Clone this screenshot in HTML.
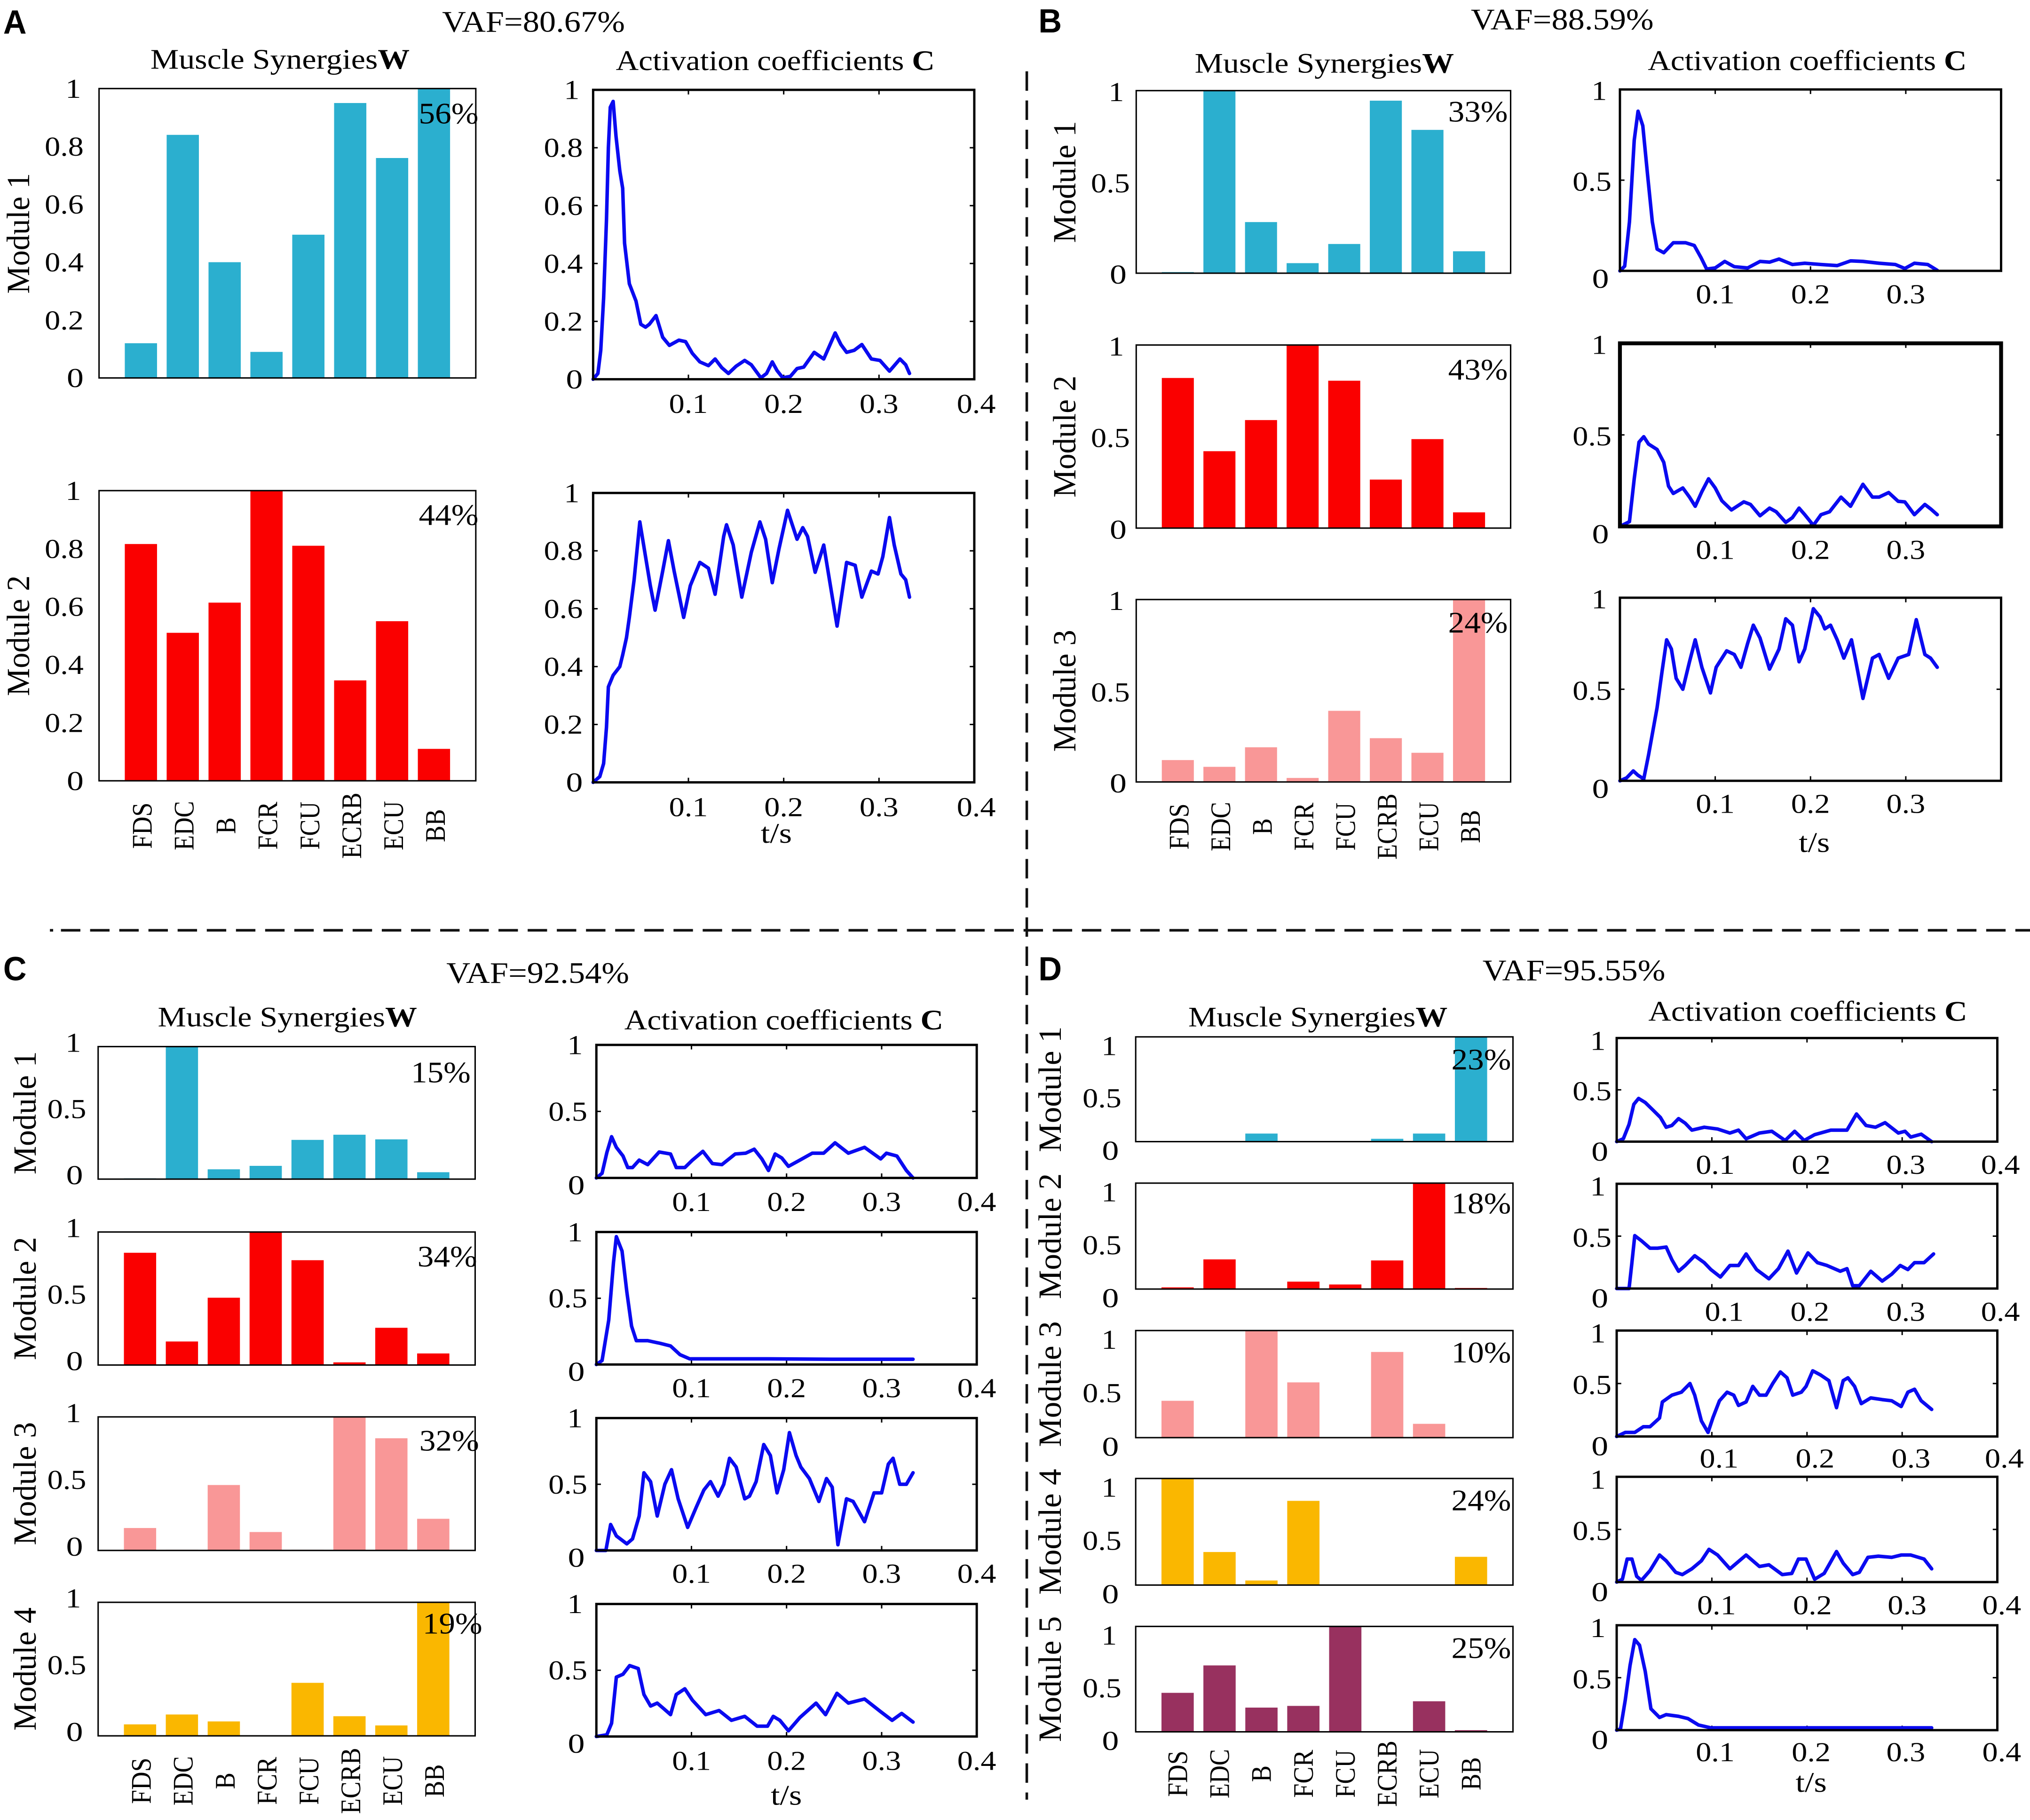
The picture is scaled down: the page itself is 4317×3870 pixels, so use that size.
<!DOCTYPE html>
<html><head><meta charset="utf-8"><style>
html,body{margin:0;padding:0;background:#fff}
svg{display:block}
text{font-family:"Liberation Serif","Times New Roman",serif;fill:#000}
.tk{font-size:21px}
.ti{font-size:22px}
.vf{font-size:23px}
.pc{font-size:23px}
.yl{font-size:25px}
.ml{font-size:22px}
.pl{font-family:"Liberation Sans",Arial,sans-serif;font-weight:bold;font-size:26px}
.c{fill:none;stroke:#0a0af0;stroke-width:7.5px;stroke-linejoin:round;stroke-linecap:round}
.tm{fill:none;stroke:#000;stroke-width:3px}
.bx{fill:none;stroke:#000;stroke-width:1.1}
.ba{fill:none;stroke:#000;stroke-width:1.8}
.dl{stroke:#111;stroke-width:2;stroke-dasharray:15 7.5;fill:none}
</style></head><body>
<svg width="4317" height="3870" viewBox="0 0 1565.8 1403.7" preserveAspectRatio="none" xmlns="http://www.w3.org/2000/svg">
<rect x="0" y="0" width="1565.8" height="1403.7" fill="#fff"/>

<!-- dashed separators -->
<line class="dl" x1="47" y1="717.5" x2="1566" y2="717.5"/>
<line x1="38.5" y1="717.5" x2="41" y2="717.5" stroke="#111" stroke-width="2"/>
<line class="dl" x1="792" y1="55" x2="792" y2="1388"/>

<!-- panel letters -->
<text class="pl" x="2.5" y="26" textLength="18" lengthAdjust="spacingAndGlyphs">A</text>
<text class="pl" x="801" y="25" textLength="18" lengthAdjust="spacingAndGlyphs">B</text>
<text class="pl" x="2.5" y="756" textLength="18" lengthAdjust="spacingAndGlyphs">C</text>
<text class="pl" x="801" y="756" textLength="18" lengthAdjust="spacingAndGlyphs">D</text>

<!-- VAF -->
<text class="vf" x="411.5" y="24.5" text-anchor="middle" textLength="141" lengthAdjust="spacingAndGlyphs">VAF=80.67%</text>
<text class="vf" x="1205" y="22.6" text-anchor="middle" textLength="141" lengthAdjust="spacingAndGlyphs">VAF=88.59%</text>
<text class="vf" x="414.8" y="758" text-anchor="middle" textLength="141" lengthAdjust="spacingAndGlyphs">VAF=92.54%</text>
<text class="vf" x="1214" y="756" text-anchor="middle" textLength="141" lengthAdjust="spacingAndGlyphs">VAF=95.55%</text>

<!-- titles -->
<text class="ti" x="216" y="53" text-anchor="middle" textLength="200" lengthAdjust="spacingAndGlyphs">Muscle Synergies<tspan font-weight="bold">W</tspan></text>
<text class="ti" x="598" y="54" text-anchor="middle" textLength="246" lengthAdjust="spacingAndGlyphs">Activation coefficients <tspan font-weight="bold">C</tspan></text>
<text class="ti" x="1021.5" y="56" text-anchor="middle" textLength="200" lengthAdjust="spacingAndGlyphs">Muscle Synergies<tspan font-weight="bold">W</tspan></text>
<text class="ti" x="1394" y="54" text-anchor="middle" textLength="246" lengthAdjust="spacingAndGlyphs">Activation coefficients <tspan font-weight="bold">C</tspan></text>
<text class="ti" x="221.7" y="791.7" text-anchor="middle" textLength="200" lengthAdjust="spacingAndGlyphs">Muscle Synergies<tspan font-weight="bold">W</tspan></text>
<text class="ti" x="604.6" y="793.9" text-anchor="middle" textLength="246" lengthAdjust="spacingAndGlyphs">Activation coefficients <tspan font-weight="bold">C</tspan></text>
<text class="ti" x="1016.5" y="791.7" text-anchor="middle" textLength="200" lengthAdjust="spacingAndGlyphs">Muscle Synergies<tspan font-weight="bold">W</tspan></text>
<text class="ti" x="1394.4" y="787.2" text-anchor="middle" textLength="246" lengthAdjust="spacingAndGlyphs">Activation coefficients <tspan font-weight="bold">C</tspan></text>

<!-- ================= BARS ================= -->
<!-- A1 -->
<g transform="translate(76.4 291.5) scale(32.29 -223.2)" fill="#2BAFCF">
<rect x="0.615" y="0" width="0.77" height="0.12"/><rect x="1.615" y="0" width="0.77" height="0.84"/><rect x="2.615" y="0" width="0.77" height="0.40"/><rect x="3.615" y="0" width="0.77" height="0.09"/><rect x="4.615" y="0" width="0.77" height="0.495"/><rect x="5.615" y="0" width="0.77" height="0.95"/><rect x="6.615" y="0" width="0.77" height="0.76"/><rect x="7.615" y="0" width="0.77" height="1"/>
</g>
<!-- A2 -->
<g transform="translate(76.4 602.2) scale(32.29 -223.8)" fill="#FA0000">
<rect x="0.615" y="0" width="0.77" height="0.816"/><rect x="1.615" y="0" width="0.77" height="0.51"/><rect x="2.615" y="0" width="0.77" height="0.614"/><rect x="3.615" y="0" width="0.77" height="1"/><rect x="4.615" y="0" width="0.77" height="0.81"/><rect x="5.615" y="0" width="0.77" height="0.346"/><rect x="6.615" y="0" width="0.77" height="0.55"/><rect x="7.615" y="0" width="0.77" height="0.11"/>
</g>
<!-- B1 -->
<g transform="translate(876.4 210.7) scale(32.09 -140.8)" fill="#2BAFCF">
<rect x="0.615" y="0" width="0.77" height="0.006"/><rect x="1.615" y="0" width="0.77" height="1"/><rect x="2.615" y="0" width="0.77" height="0.28"/><rect x="3.615" y="0" width="0.77" height="0.055"/><rect x="4.615" y="0" width="0.77" height="0.16"/><rect x="5.615" y="0" width="0.77" height="0.945"/><rect x="6.615" y="0" width="0.77" height="0.785"/><rect x="7.615" y="0" width="0.77" height="0.12"/>
</g>
<!-- B2 -->
<g transform="translate(876.4 407.3) scale(32.09 -141.2)" fill="#FA0000">
<rect x="0.615" y="0" width="0.77" height="0.82"/><rect x="1.615" y="0" width="0.77" height="0.42"/><rect x="2.615" y="0" width="0.77" height="0.59"/><rect x="3.615" y="0" width="0.77" height="1"/><rect x="4.615" y="0" width="0.77" height="0.805"/><rect x="5.615" y="0" width="0.77" height="0.265"/><rect x="6.615" y="0" width="0.77" height="0.486"/><rect x="7.615" y="0" width="0.77" height="0.086"/>
</g>
<!-- B3 -->
<g transform="translate(876.4 603.1) scale(32.09 -140.7)" fill="#F99797">
<rect x="0.615" y="0" width="0.77" height="0.12"/><rect x="1.615" y="0" width="0.77" height="0.083"/><rect x="2.615" y="0" width="0.77" height="0.19"/><rect x="3.615" y="0" width="0.77" height="0.022"/><rect x="4.615" y="0" width="0.77" height="0.39"/><rect x="5.615" y="0" width="0.77" height="0.24"/><rect x="6.615" y="0" width="0.77" height="0.16"/><rect x="7.615" y="0" width="0.77" height="1"/>
</g>
<!-- C1 -->
<g transform="translate(75.7 909.4) scale(32.31 -102.2)" fill="#2BAFCF">
<rect x="0.615" y="0" width="0.77" height="0.006"/><rect x="1.615" y="0" width="0.77" height="1"/><rect x="2.615" y="0" width="0.77" height="0.074"/><rect x="3.615" y="0" width="0.77" height="0.10"/><rect x="4.615" y="0" width="0.77" height="0.296"/><rect x="5.615" y="0" width="0.77" height="0.335"/><rect x="6.615" y="0" width="0.77" height="0.30"/><rect x="7.615" y="0" width="0.77" height="0.052"/>
</g>
<!-- C2 -->
<g transform="translate(75.7 1052.8) scale(32.31 -102.6)" fill="#FA0000">
<rect x="0.615" y="0" width="0.77" height="0.844"/><rect x="1.615" y="0" width="0.77" height="0.177"/><rect x="2.615" y="0" width="0.77" height="0.506"/><rect x="3.615" y="0" width="0.77" height="1"/><rect x="4.615" y="0" width="0.77" height="0.788"/><rect x="5.615" y="0" width="0.77" height="0.02"/><rect x="6.615" y="0" width="0.77" height="0.28"/><rect x="7.615" y="0" width="0.77" height="0.087"/>
</g>
<!-- C3 -->
<g transform="translate(75.7 1195.8) scale(32.31 -103)" fill="#F99797">
<rect x="0.615" y="0" width="0.77" height="0.168"/><rect x="1.615" y="0" width="0.77" height="0.005"/><rect x="2.615" y="0" width="0.77" height="0.49"/><rect x="3.615" y="0" width="0.77" height="0.138"/><rect x="4.615" y="0" width="0.77" height="0.005"/><rect x="5.615" y="0" width="0.77" height="1"/><rect x="6.615" y="0" width="0.77" height="0.84"/><rect x="7.615" y="0" width="0.77" height="0.237"/>
</g>
<!-- C4 -->
<g transform="translate(75.7 1338.8) scale(32.31 -103)" fill="#FAB700">
<rect x="0.615" y="0" width="0.77" height="0.086"/><rect x="1.615" y="0" width="0.77" height="0.16"/><rect x="2.615" y="0" width="0.77" height="0.108"/><rect x="3.615" y="0" width="0.77" height="0.004"/><rect x="4.615" y="0" width="0.77" height="0.397"/><rect x="5.615" y="0" width="0.77" height="0.147"/><rect x="6.615" y="0" width="0.77" height="0.078"/><rect x="7.615" y="0" width="0.77" height="1"/>
</g>
<!-- D1 -->
<g transform="translate(876 880.5) scale(32.33 -80.8)" fill="#2BAFCF">
<rect x="0.615" y="0" width="0.77" height="0.006"/><rect x="1.615" y="0" width="0.77" height="0.006"/><rect x="2.615" y="0" width="0.77" height="0.077"/><rect x="3.615" y="0" width="0.77" height="0.006"/><rect x="4.615" y="0" width="0.77" height="0.006"/><rect x="5.615" y="0" width="0.77" height="0.027"/><rect x="6.615" y="0" width="0.77" height="0.077"/><rect x="7.615" y="0" width="0.77" height="1"/>
</g>
<!-- D2 -->
<g transform="translate(876 994.2) scale(32.33 -81.7)" fill="#FA0000">
<rect x="0.615" y="0" width="0.77" height="0.016"/><rect x="1.615" y="0" width="0.77" height="0.28"/><rect x="2.615" y="0" width="0.77" height="0.006"/><rect x="3.615" y="0" width="0.77" height="0.07"/><rect x="4.615" y="0" width="0.77" height="0.043"/><rect x="5.615" y="0" width="0.77" height="0.27"/><rect x="6.615" y="0" width="0.77" height="1"/><rect x="7.615" y="0" width="0.77" height="0.01"/>
</g>
<!-- D3 -->
<g transform="translate(876 1108.8) scale(32.33 -82.6)" fill="#F99797">
<rect x="0.615" y="0" width="0.77" height="0.344"/><rect x="1.615" y="0" width="0.77" height="0.006"/><rect x="2.615" y="0" width="0.77" height="1"/><rect x="3.615" y="0" width="0.77" height="0.516"/><rect x="4.615" y="0" width="0.77" height="0.006"/><rect x="5.615" y="0" width="0.77" height="0.80"/><rect x="6.615" y="0" width="0.77" height="0.129"/><rect x="7.615" y="0" width="0.77" height="0.006"/>
</g>
<!-- D4 -->
<g transform="translate(876 1222.5) scale(32.33 -82.2)" fill="#FAB700">
<rect x="0.615" y="0" width="0.77" height="1"/><rect x="1.615" y="0" width="0.77" height="0.31"/><rect x="2.615" y="0" width="0.77" height="0.043"/><rect x="3.615" y="0" width="0.77" height="0.79"/><rect x="4.615" y="0" width="0.77" height="0.004"/><rect x="5.615" y="0" width="0.77" height="0.004"/><rect x="6.615" y="0" width="0.77" height="0.004"/><rect x="7.615" y="0" width="0.77" height="0.265"/>
</g>
<!-- D5 -->
<g transform="translate(876 1335.7) scale(32.33 -81.3)" fill="#98315F">
<rect x="0.615" y="0" width="0.77" height="0.37"/><rect x="1.615" y="0" width="0.77" height="0.63"/><rect x="2.615" y="0" width="0.77" height="0.23"/><rect x="3.615" y="0" width="0.77" height="0.246"/><rect x="4.615" y="0" width="0.77" height="1"/><rect x="5.615" y="0" width="0.77" height="0.004"/><rect x="6.615" y="0" width="0.77" height="0.29"/><rect x="7.615" y="0" width="0.77" height="0.016"/>
</g>

<!-- bar boxes -->
<rect class="bx" x="76.4" y="68.3" width="290.6" height="223.2"/>
<rect class="bx" x="76.4" y="378.4" width="290.6" height="223.8"/>
<rect class="bx" x="876.4" y="69.9" width="288.8" height="140.8"/>
<rect class="bx" x="876.4" y="266.1" width="288.8" height="141.2"/>
<rect class="bx" x="876.4" y="462.4" width="288.8" height="140.7"/>
<rect class="bx" x="75.7" y="807.2" width="290.8" height="102.2"/>
<rect class="bx" x="75.7" y="950.2" width="290.8" height="102.6"/>
<rect class="bx" x="75.7" y="1092.8" width="290.8" height="103"/>
<rect class="bx" x="75.7" y="1235.8" width="290.8" height="103"/>
<rect class="bx" x="876" y="799.7" width="291" height="80.8"/>
<rect class="bx" x="876" y="912.5" width="291" height="81.7"/>
<rect class="bx" x="876" y="1026.2" width="291" height="82.6"/>
<rect class="bx" x="876" y="1140.3" width="291" height="82.2"/>
<rect class="bx" x="876" y="1254.4" width="291" height="81.3"/>

<!-- ================= ACTIVATIONS ================= -->
<!-- A1 -->
<g transform="translate(457.5 292.5) scale(0.735 -2.232)">
<path class="tm" vector-effect="non-scaling-stroke" d="M100 0V1.6M200 0V1.6M300 0V1.6M100 100V98.4M200 100V98.4M300 100V98.4M0 20H4.8M0 40H4.8M0 60H4.8M0 80H4.8M400 20H395.2M400 40H395.2M400 60H395.2M400 80H395.2"/>
<polyline class="c" vector-effect="non-scaling-stroke" points="0,0 5,2 8,10 11,28 14,55 16,80 18,94 21,96 24,84 28,72 31,66 33,47 38,33 45,27 50,19 55,18 59,19 66,22 73,14.5 80,11.7 90,13.5 97,13 104,9 112,6 121,4.7 128,7 135,4 142,2 150,4.5 159,6.5 166,5 176,0.5 182,2 188,6 193,3 199,0.5 207,1 214,3.7 221,4.2 232,9.3 242,7 254,16 260,12 266,9.3 274,10 282,12 292,7 301,6.5 311,2.8 322,7 328,5 332,2"/>
</g>
<!-- A2 -->
<g transform="translate(457.5 603.4) scale(0.735 -2.232)">
<path class="tm" vector-effect="non-scaling-stroke" d="M100 0V1.6M200 0V1.6M300 0V1.6M100 100V98.4M200 100V98.4M300 100V98.4M0 20H4.8M0 40H4.8M0 60H4.8M0 80H4.8M400 20H395.2M400 40H395.2M400 60H395.2M400 80H395.2"/>
<polyline class="c" vector-effect="non-scaling-stroke" points="0,0 7,2 11,6.5 14,19 16,33 21,37 28,40 31,44 35,50 38,57 43,70 49,90 55,78 60,68 65,59.5 73,73 79,83.5 85,73 95,57 102,68 112,76 121,74 128,65 137,85 140,89 147,82 156,64 166,79.5 175,90 181,84 188,69 195,80.6 204,94 214,84 220,88 225,85 233,72.6 242,82 249,68 256,54 266,76 275,75 282,64 292,73 299,72 304,78 311,91.5 316,82 323,72 328,70 332,64"/>
</g>
<!-- B1 -->
<g transform="translate(1249.5 208.9) scale(0.735 -1.399)">
<path class="tm" vector-effect="non-scaling-stroke" d="M100 0V2.5M200 0V2.5M300 0V2.5M100 100V97.5M200 100V97.5M300 100V97.5M0 50H4.8M400 50H395.2"/>
<polyline class="c" vector-effect="non-scaling-stroke" points="0,0 5,2.6 10,27 15,72 19,88 24,80 29,53 34,27 39,12 46,10 56,15.5 69,15.5 78,14 85,7.4 91,1 100,1.6 110,5.2 120,2.3 134,1.6 147,5.2 157,4.8 167,6.5 181,3.5 194,4.2 211,3.5 228,2.9 242,5.5 255,5.2 272,4.2 289,3.5 299,1.3 309,4.2 323,3.5 333,0.3"/>
</g>
<!-- B2 -->
<g transform="translate(1249.5 406) scale(0.735 -1.412)">
<path class="tm" vector-effect="non-scaling-stroke" d="M100 0V2.5M200 0V2.5M300 0V2.5M100 100V97.5M200 100V97.5M300 100V97.5M0 50H4.8M400 50H395.2"/>
<polyline class="c" vector-effect="non-scaling-stroke" points="0,0 10,2.6 15,26 20,46 25,49 30,45 39,42 46,35 51,22 56,18 66,21 73,16 79,11 86,19 93,26 100,21 107,14 117,9 130,13.4 137,12 147,5.8 157,10 164,8 174,2.2 181,4.8 188,10 194,6.4 203,0.6 211,6.4 220,8 232,16 242,11 255,23 265,16 272,16 282,18.5 292,13.7 299,13.4 309,6.4 320,12 326,9.6 333,6.4"/>
</g>
<!-- B3 -->
<g transform="translate(1249.5 602.2) scale(0.735 -1.412)">
<path class="tm" vector-effect="non-scaling-stroke" d="M100 0V2.5M200 0V2.5M300 0V2.5M100 100V97.5M200 100V97.5M300 100V97.5M0 50H4.8M400 50H395.2"/>
<polyline class="c" vector-effect="non-scaling-stroke" points="0,0 7,1.6 14,5.4 19,3 25,1 30,14 39,40 44,59 49,77 54,72 59,56 66,50 73,65 79,77 86,62 95,48 101,62 112,71 120,69 127,62 134,75 140,85 147,78 157,61 167,72 174,88.5 181,85 188,65 194,72 203,94 210,89.5 215,83 221,85 228,77 235,67 243,77 248,64 255,45 265,67 272,69 282,56 292,67 303,69 311,88 320,69 326,67 333,62"/>
</g>
<!-- C1 -->
<g transform="translate(460 908.5) scale(0.7335 -1.026)">
<path class="tm" vector-effect="non-scaling-stroke" d="M100 0V3.4M200 0V3.4M300 0V3.4M100 100V96.6M200 100V96.6M300 100V96.6M0 50H4.8M400 50H395.2"/>
<polyline class="c" vector-effect="non-scaling-stroke" points="0,0 6,3.5 11,19 16,31 21,23 28,16.5 33,7.8 38,7.8 45,13.4 54,10 66,19.5 78,18 84,7.8 93,7.8 101,13.4 112,20 122,10.8 132,10 146,18 157,18.6 166,21.6 174,14.3 181,5.6 188,18 195,15 202,8.7 214,13.4 227,18.6 239,18.6 251,26.4 265,18.6 282,23 299,14.3 305,18.6 316,16.5 326,5.6 333,0"/>
</g>
<!-- C2 -->
<g transform="translate(460 1052.4) scale(0.7335 -1.022)">
<path class="tm" vector-effect="non-scaling-stroke" d="M100 0V3.4M200 0V3.4M300 0V3.4M100 100V96.6M200 100V96.6M300 100V96.6M0 50H4.8M400 50H395.2"/>
<polyline class="c" vector-effect="non-scaling-stroke" points="0,0 6,3 13,33.5 18,77 21,96.5 27,85.6 32,55 37,29 42,18 54,18 67,16 78,14 88,7.4 98,4.3 112,4.3 180,4.3 248,4 333,4"/>
</g>
<!-- C3 -->
<g transform="translate(460 1195.8) scale(0.7335 -1.021)">
<path class="tm" vector-effect="non-scaling-stroke" d="M100 0V3.4M200 0V3.4M300 0V3.4M100 100V96.6M200 100V96.6M300 100V96.6M0 50H4.8M400 50H395.2"/>
<polyline class="c" vector-effect="non-scaling-stroke" points="0,0 10,0 15,19.6 21,11 32,5 38,8.7 45,26 50,58.7 57,52 64,26 72,50 79,61 86,39 96,17.4 105,32.6 113,45.6 120,52 128,41 134,50 140,69.6 147,63 156,39 161,41 168,52 176,80 183,71.7 190,43.5 197,61 203,89 210,71.7 215,63 224,54.3 234,37 242,54.3 248,47.8 254,4.3 263,39 270,37 282,21.7 292,43.5 300,43.5 307,65.2 312,69.6 319,50 326,50 333,58.7"/>
</g>
<!-- C4 -->
<g transform="translate(460 1339.3) scale(0.7335 -1.022)">
<path class="tm" vector-effect="non-scaling-stroke" d="M100 0V3.4M200 0V3.4M300 0V3.4M100 100V96.6M200 100V96.6M300 100V96.6M0 50H4.8M400 50H395.2"/>
<polyline class="c" vector-effect="non-scaling-stroke" points="0,0 11,1.3 16,10 21,44.8 28,47 35,53.5 44,51.3 50,31.7 57,23 64,25.2 71,20.9 78,16.5 84,31.7 93,36 101,27.4 115,16.5 129,19.6 142,12.2 156,15.2 169,7.8 180,7.8 186,15.2 193,12.2 202,4.3 214,14.3 231,25.2 241,16.5 253,32.6 265,25.2 282,28.3 299,18.7 311,12.2 321,17.4 333,10.9"/>
</g>
<!-- D1 -->
<g transform="translate(1247 880.5) scale(0.734 -0.799)">
<path class="tm" vector-effect="non-scaling-stroke" d="M100 0V4.3M200 0V4.3M300 0V4.3M100 100V95.7M200 100V95.7M300 100V95.7M0 50H4.8M400 50H395.2"/>
<polyline class="c" vector-effect="non-scaling-stroke" points="0,0 7,2.8 13,16.7 18,36 23,41.7 30,37.8 38,30.6 46,23.3 52,13.9 58,15.6 65,22.2 72,17.8 79,11.1 92,13.9 106,12.2 119,8.3 128,11.1 136,2.8 150,8.3 163,10 177,1.1 187,10 197,1.1 208,6.7 225,11.1 242,11.1 252,26.7 262,15.6 272,13.9 282,18.3 296,8.3 303,10 309,4.4 320,7.2 331,0"/>
</g>
<!-- D2 -->
<g transform="translate(1247 993.8) scale(0.734 -0.808)">
<path class="tm" vector-effect="non-scaling-stroke" d="M100 0V4.3M200 0V4.3M300 0V4.3M100 100V95.7M200 100V95.7M300 100V95.7M0 50H4.8M400 50H395.2"/>
<polyline class="c" vector-effect="non-scaling-stroke" points="0,0 13,0 16,24.7 19,50.5 26,45.6 35,38.5 43,38.5 52,39.6 58,27.5 65,16.5 72,22 82,31.3 92,24.7 99,18.1 109,11 119,22 128,22 136,33 147,18.1 160,9.3 170,19 180,35.7 189,14.8 201,34 211,24.7 221,22 235,16.5 242,19 248,2.7 255,2.7 267,16.5 279,7.1 289,13.7 298,22 306,18.1 313,24.7 323,24.7 333,33"/>
</g>
<!-- D3 -->
<g transform="translate(1247 1107.9) scale(0.734 -0.817)">
<path class="tm" vector-effect="non-scaling-stroke" d="M100 0V4.3M200 0V4.3M300 0V4.3M100 100V95.7M200 100V95.7M300 100V95.7M0 50H4.8M400 50H395.2"/>
<polyline class="c" vector-effect="non-scaling-stroke" points="0,0 9,3.8 19,3.8 28,9.2 35,9.2 45,17.4 48,32.6 58,39 68,41.8 77,50 82,39 89,14.7 96,3.8 101,17.4 108,33.7 116,41.8 123,39 128,29.3 136,32.6 143,47.3 150,39 157,39 164,50 172,60.9 179,55.4 185,39 194,41.8 199,47.3 206,62 214,58.2 223,52.7 231,27.2 238,52.7 243,55.4 250,47.3 257,31 267,36.4 279,34.8 289,33.7 299,28.3 306,41.8 313,44.6 320,33.7 331,25.5"/>
</g>
<!-- D4 -->
<g transform="translate(1247 1220.2) scale(0.734 -0.812)">
<path class="tm" vector-effect="non-scaling-stroke" d="M100 0V4.3M200 0V4.3M300 0V4.3M100 100V95.7M200 100V95.7M300 100V95.7M0 50H4.8M400 50H395.2"/>
<polyline class="c" vector-effect="non-scaling-stroke" points="0,0 6,2.7 11,21.9 16,21.9 21,5.5 26,1.6 35,10.9 45,25.7 52,20.2 62,9.3 69,7.1 79,12.6 89,20.2 97,31.1 106,25.7 119,12.6 136,25.7 150,14.8 160,16.4 174,7.1 184,8.2 191,21.9 199,21.9 208,2.7 218,8.2 231,29 238,18 248,7.1 255,9.3 264,23.5 275,24.6 289,23.5 299,25.7 309,25.7 323,21.9 331,12.6"/>
</g>
<!-- D5 -->
<g transform="translate(1247 1334.4) scale(0.734 -0.809)">
<path class="tm" vector-effect="non-scaling-stroke" d="M100 0V4.3M200 0V4.3M300 0V4.3M100 100V95.7M200 100V95.7M300 100V95.7M0 50H4.8M400 50H395.2"/>
<polyline class="c" vector-effect="non-scaling-stroke" points="0,0 4,1.1 9,28.6 14,61.5 19,86.3 24,81 30,56 36,20.3 45,12.1 52,14.8 65,13.2 75,11 86,4.9 99,2.2 140,2.2 208,2.2 331,2.2"/>
</g>

<!-- activation boxes -->
<rect class="ba" x="457.5" y="69.3" width="294" height="223.2"/>
<rect class="ba" x="457.5" y="380.2" width="294" height="223.2"/>
<rect class="ba" x="1249.5" y="69" width="294" height="139.9"/>
<rect x="1249.5" y="264.8" width="294" height="141.2" fill="none" stroke="#000" stroke-width="3"/>
<rect class="ba" x="1249.5" y="461" width="294" height="141.2"/>
<rect class="ba" x="460" y="805.9" width="293.4" height="102.6"/>
<rect class="ba" x="460" y="950.2" width="293.4" height="102.2"/>
<rect class="ba" x="460" y="1093.7" width="293.4" height="102.1"/>
<rect class="ba" x="460" y="1237.1" width="293.4" height="102.2"/>
<rect class="ba" x="1247" y="800.6" width="293.6" height="79.9"/>
<rect class="ba" x="1247" y="913" width="293.6" height="80.8"/>
<rect class="ba" x="1247" y="1026.2" width="293.6" height="81.7"/>
<rect class="ba" x="1247" y="1139" width="293.6" height="81.2"/>
<rect class="ba" x="1247" y="1253.5" width="293.6" height="80.9"/>

<!-- ================= Y TICK LABELS ================= -->
<g class="tk" text-anchor="end">
<!-- A bars -->
<text x="64.5" y="298.6" textLength="13" lengthAdjust="spacingAndGlyphs">0</text>
<text x="64.5" y="254" textLength="30" lengthAdjust="spacingAndGlyphs">0.2</text>
<text x="64.5" y="209.3" textLength="30" lengthAdjust="spacingAndGlyphs">0.4</text>
<text x="64.5" y="164.7" textLength="30" lengthAdjust="spacingAndGlyphs">0.6</text>
<text x="64.5" y="120" textLength="30" lengthAdjust="spacingAndGlyphs">0.8</text>
<text x="62.5" y="75.4" textLength="12" lengthAdjust="spacingAndGlyphs">1</text>
<text x="64.5" y="609.3" textLength="13" lengthAdjust="spacingAndGlyphs">0</text>
<text x="64.5" y="564.5" textLength="30" lengthAdjust="spacingAndGlyphs">0.2</text>
<text x="64.5" y="519.8" textLength="30" lengthAdjust="spacingAndGlyphs">0.4</text>
<text x="64.5" y="475" textLength="30" lengthAdjust="spacingAndGlyphs">0.6</text>
<text x="64.5" y="430.3" textLength="30" lengthAdjust="spacingAndGlyphs">0.8</text>
<text x="62.5" y="385.5" textLength="12" lengthAdjust="spacingAndGlyphs">1</text>
<!-- A act -->
<text x="449.5" y="299.6" textLength="13" lengthAdjust="spacingAndGlyphs">0</text>
<text x="449.5" y="255" textLength="30" lengthAdjust="spacingAndGlyphs">0.2</text>
<text x="449.5" y="210.3" textLength="30" lengthAdjust="spacingAndGlyphs">0.4</text>
<text x="449.5" y="165.7" textLength="30" lengthAdjust="spacingAndGlyphs">0.6</text>
<text x="449.5" y="121" textLength="30" lengthAdjust="spacingAndGlyphs">0.8</text>
<text x="447" y="76.4" textLength="12" lengthAdjust="spacingAndGlyphs">1</text>
<text x="449.5" y="610.5" textLength="13" lengthAdjust="spacingAndGlyphs">0</text>
<text x="449.5" y="565.9" textLength="30" lengthAdjust="spacingAndGlyphs">0.2</text>
<text x="449.5" y="521.2" textLength="30" lengthAdjust="spacingAndGlyphs">0.4</text>
<text x="449.5" y="476.6" textLength="30" lengthAdjust="spacingAndGlyphs">0.6</text>
<text x="449.5" y="431.9" textLength="30" lengthAdjust="spacingAndGlyphs">0.8</text>
<text x="447" y="387.3" textLength="12" lengthAdjust="spacingAndGlyphs">1</text>
<!-- B bars -->
<text x="869" y="218.8" textLength="13" lengthAdjust="spacingAndGlyphs">0</text>
<text x="871.5" y="148.4" textLength="30" lengthAdjust="spacingAndGlyphs">0.5</text>
<text x="867" y="78" textLength="12" lengthAdjust="spacingAndGlyphs">1</text>
<text x="869" y="415.4" textLength="13" lengthAdjust="spacingAndGlyphs">0</text>
<text x="871.5" y="344.8" textLength="30" lengthAdjust="spacingAndGlyphs">0.5</text>
<text x="867" y="274.2" textLength="12" lengthAdjust="spacingAndGlyphs">1</text>
<text x="869" y="611.2" textLength="13" lengthAdjust="spacingAndGlyphs">0</text>
<text x="871.5" y="540.9" textLength="30" lengthAdjust="spacingAndGlyphs">0.5</text>
<text x="867" y="470.5" textLength="12" lengthAdjust="spacingAndGlyphs">1</text>
<!-- B act -->
<text x="1241" y="222" textLength="13" lengthAdjust="spacingAndGlyphs">0</text>
<text x="1243" y="147.1" textLength="30" lengthAdjust="spacingAndGlyphs">0.5</text>
<text x="1239.5" y="77.1" textLength="12" lengthAdjust="spacingAndGlyphs">1</text>
<text x="1241" y="419" textLength="13" lengthAdjust="spacingAndGlyphs">0</text>
<text x="1243" y="343.5" textLength="30" lengthAdjust="spacingAndGlyphs">0.5</text>
<text x="1239.5" y="273" textLength="12" lengthAdjust="spacingAndGlyphs">1</text>
<text x="1241" y="615.3" textLength="13" lengthAdjust="spacingAndGlyphs">0</text>
<text x="1243" y="539.7" textLength="30" lengthAdjust="spacingAndGlyphs">0.5</text>
<text x="1239.5" y="469.1" textLength="12" lengthAdjust="spacingAndGlyphs">1</text>
<!-- C bars -->
<text x="64" y="913.4" textLength="13" lengthAdjust="spacingAndGlyphs">0</text>
<text x="66.5" y="862.3" textLength="30" lengthAdjust="spacingAndGlyphs">0.5</text>
<text x="62.5" y="811.2" textLength="12" lengthAdjust="spacingAndGlyphs">1</text>
<text x="64" y="1056.8" textLength="13" lengthAdjust="spacingAndGlyphs">0</text>
<text x="66.5" y="1005.5" textLength="30" lengthAdjust="spacingAndGlyphs">0.5</text>
<text x="62.5" y="954.2" textLength="12" lengthAdjust="spacingAndGlyphs">1</text>
<text x="64" y="1199.8" textLength="13" lengthAdjust="spacingAndGlyphs">0</text>
<text x="66.5" y="1148.3" textLength="30" lengthAdjust="spacingAndGlyphs">0.5</text>
<text x="62.5" y="1096.8" textLength="12" lengthAdjust="spacingAndGlyphs">1</text>
<text x="64" y="1342.8" textLength="13" lengthAdjust="spacingAndGlyphs">0</text>
<text x="66.5" y="1291.3" textLength="30" lengthAdjust="spacingAndGlyphs">0.5</text>
<text x="62.5" y="1239.8" textLength="12" lengthAdjust="spacingAndGlyphs">1</text>
<!-- C act -->
<text x="451" y="921.1" textLength="13" lengthAdjust="spacingAndGlyphs">0</text>
<text x="453" y="864.3" textLength="30" lengthAdjust="spacingAndGlyphs">0.5</text>
<text x="449.5" y="813" textLength="12" lengthAdjust="spacingAndGlyphs">1</text>
<text x="451" y="1065" textLength="13" lengthAdjust="spacingAndGlyphs">0</text>
<text x="453" y="1008.4" textLength="30" lengthAdjust="spacingAndGlyphs">0.5</text>
<text x="449.5" y="957.3" textLength="12" lengthAdjust="spacingAndGlyphs">1</text>
<text x="451" y="1208.4" textLength="13" lengthAdjust="spacingAndGlyphs">0</text>
<text x="453" y="1151.9" textLength="30" lengthAdjust="spacingAndGlyphs">0.5</text>
<text x="449.5" y="1100.8" textLength="12" lengthAdjust="spacingAndGlyphs">1</text>
<text x="451" y="1351.9" textLength="13" lengthAdjust="spacingAndGlyphs">0</text>
<text x="453" y="1295.3" textLength="30" lengthAdjust="spacingAndGlyphs">0.5</text>
<text x="449.5" y="1244.2" textLength="12" lengthAdjust="spacingAndGlyphs">1</text>
<!-- D bars -->
<text x="863" y="894.5" textLength="13" lengthAdjust="spacingAndGlyphs">0</text>
<text x="865" y="854.1" textLength="30" lengthAdjust="spacingAndGlyphs">0.5</text>
<text x="861.5" y="813.7" textLength="12" lengthAdjust="spacingAndGlyphs">1</text>
<text x="863" y="1008.2" textLength="13" lengthAdjust="spacingAndGlyphs">0</text>
<text x="865" y="967.4" textLength="30" lengthAdjust="spacingAndGlyphs">0.5</text>
<text x="861.5" y="926.5" textLength="12" lengthAdjust="spacingAndGlyphs">1</text>
<text x="863" y="1122.8" textLength="13" lengthAdjust="spacingAndGlyphs">0</text>
<text x="865" y="1081.5" textLength="30" lengthAdjust="spacingAndGlyphs">0.5</text>
<text x="861.5" y="1040.2" textLength="12" lengthAdjust="spacingAndGlyphs">1</text>
<text x="863" y="1236.5" textLength="13" lengthAdjust="spacingAndGlyphs">0</text>
<text x="865" y="1195.4" textLength="30" lengthAdjust="spacingAndGlyphs">0.5</text>
<text x="861.5" y="1154.3" textLength="12" lengthAdjust="spacingAndGlyphs">1</text>
<text x="863" y="1349.7" textLength="13" lengthAdjust="spacingAndGlyphs">0</text>
<text x="865" y="1309" textLength="30" lengthAdjust="spacingAndGlyphs">0.5</text>
<text x="861.5" y="1268.4" textLength="12" lengthAdjust="spacingAndGlyphs">1</text>
<!-- D act -->
<text x="1240.5" y="895.1" textLength="13" lengthAdjust="spacingAndGlyphs">0</text>
<text x="1243" y="848.6" textLength="30" lengthAdjust="spacingAndGlyphs">0.5</text>
<text x="1238.5" y="809.7" textLength="12" lengthAdjust="spacingAndGlyphs">1</text>
<text x="1240.5" y="1008.4" textLength="13" lengthAdjust="spacingAndGlyphs">0</text>
<text x="1243" y="961.5" textLength="30" lengthAdjust="spacingAndGlyphs">0.5</text>
<text x="1238.5" y="922.1" textLength="12" lengthAdjust="spacingAndGlyphs">1</text>
<text x="1240.5" y="1122.5" textLength="13" lengthAdjust="spacingAndGlyphs">0</text>
<text x="1243" y="1075.1" textLength="30" lengthAdjust="spacingAndGlyphs">0.5</text>
<text x="1238.5" y="1035.3" textLength="12" lengthAdjust="spacingAndGlyphs">1</text>
<text x="1240.5" y="1234.8" textLength="13" lengthAdjust="spacingAndGlyphs">0</text>
<text x="1243" y="1187.7" textLength="30" lengthAdjust="spacingAndGlyphs">0.5</text>
<text x="1238.5" y="1148.1" textLength="12" lengthAdjust="spacingAndGlyphs">1</text>
<text x="1240.5" y="1349" textLength="13" lengthAdjust="spacingAndGlyphs">0</text>
<text x="1243" y="1302.1" textLength="30" lengthAdjust="spacingAndGlyphs">0.5</text>
<text x="1238.5" y="1262.6" textLength="12" lengthAdjust="spacingAndGlyphs">1</text>
</g>

<!-- ================= X TICK LABELS ================= -->
<g class="tk" text-anchor="middle">
<text x="531" y="318.5" textLength="30" lengthAdjust="spacingAndGlyphs">0.1</text>
<text x="604.5" y="318.5" textLength="30" lengthAdjust="spacingAndGlyphs">0.2</text>
<text x="678" y="318.5" textLength="30" lengthAdjust="spacingAndGlyphs">0.3</text>
<text x="753" y="318.5" textLength="30" lengthAdjust="spacingAndGlyphs">0.4</text>
<text x="531" y="629.5" textLength="30" lengthAdjust="spacingAndGlyphs">0.1</text>
<text x="604.5" y="629.5" textLength="30" lengthAdjust="spacingAndGlyphs">0.2</text>
<text x="678" y="629.5" textLength="30" lengthAdjust="spacingAndGlyphs">0.3</text>
<text x="753" y="629.5" textLength="30" lengthAdjust="spacingAndGlyphs">0.4</text>

<text x="1323" y="234" textLength="30" lengthAdjust="spacingAndGlyphs">0.1</text>
<text x="1396.5" y="234" textLength="30" lengthAdjust="spacingAndGlyphs">0.2</text>
<text x="1470" y="234" textLength="30" lengthAdjust="spacingAndGlyphs">0.3</text>
<text x="1323" y="431" textLength="30" lengthAdjust="spacingAndGlyphs">0.1</text>
<text x="1396.5" y="431" textLength="30" lengthAdjust="spacingAndGlyphs">0.2</text>
<text x="1470" y="431" textLength="30" lengthAdjust="spacingAndGlyphs">0.3</text>
<text x="1323" y="627" textLength="30" lengthAdjust="spacingAndGlyphs">0.1</text>
<text x="1396.5" y="627" textLength="30" lengthAdjust="spacingAndGlyphs">0.2</text>
<text x="1470" y="627" textLength="30" lengthAdjust="spacingAndGlyphs">0.3</text>

<text x="533.4" y="934" textLength="30" lengthAdjust="spacingAndGlyphs">0.1</text>
<text x="606.7" y="934" textLength="30" lengthAdjust="spacingAndGlyphs">0.2</text>
<text x="680" y="934" textLength="30" lengthAdjust="spacingAndGlyphs">0.3</text>
<text x="753.4" y="934" textLength="30" lengthAdjust="spacingAndGlyphs">0.4</text>
<text x="533.4" y="1077.7" textLength="30" lengthAdjust="spacingAndGlyphs">0.1</text>
<text x="606.7" y="1077.7" textLength="30" lengthAdjust="spacingAndGlyphs">0.2</text>
<text x="680" y="1077.7" textLength="30" lengthAdjust="spacingAndGlyphs">0.3</text>
<text x="753.4" y="1077.7" textLength="30" lengthAdjust="spacingAndGlyphs">0.4</text>
<text x="533.4" y="1220.7" textLength="30" lengthAdjust="spacingAndGlyphs">0.1</text>
<text x="606.7" y="1220.7" textLength="30" lengthAdjust="spacingAndGlyphs">0.2</text>
<text x="680" y="1220.7" textLength="30" lengthAdjust="spacingAndGlyphs">0.3</text>
<text x="753.4" y="1220.7" textLength="30" lengthAdjust="spacingAndGlyphs">0.4</text>
<text x="533.4" y="1365" textLength="30" lengthAdjust="spacingAndGlyphs">0.1</text>
<text x="606.7" y="1365" textLength="30" lengthAdjust="spacingAndGlyphs">0.2</text>
<text x="680" y="1365" textLength="30" lengthAdjust="spacingAndGlyphs">0.3</text>
<text x="753.4" y="1365" textLength="30" lengthAdjust="spacingAndGlyphs">0.4</text>

<text x="1323" y="905.4" textLength="30" lengthAdjust="spacingAndGlyphs">0.1</text>
<text x="1397" y="905.4" textLength="30" lengthAdjust="spacingAndGlyphs">0.2</text>
<text x="1470" y="905.4" textLength="30" lengthAdjust="spacingAndGlyphs">0.3</text>
<text x="1543" y="905.4" textLength="30" lengthAdjust="spacingAndGlyphs">0.4</text>
<text x="1330" y="1018.6" textLength="30" lengthAdjust="spacingAndGlyphs">0.1</text>
<text x="1396" y="1018.6" textLength="30" lengthAdjust="spacingAndGlyphs">0.2</text>
<text x="1470" y="1018.6" textLength="30" lengthAdjust="spacingAndGlyphs">0.3</text>
<text x="1543" y="1018.6" textLength="30" lengthAdjust="spacingAndGlyphs">0.4</text>
<text x="1326" y="1131.9" textLength="30" lengthAdjust="spacingAndGlyphs">0.1</text>
<text x="1400" y="1131.9" textLength="30" lengthAdjust="spacingAndGlyphs">0.2</text>
<text x="1474" y="1131.9" textLength="30" lengthAdjust="spacingAndGlyphs">0.3</text>
<text x="1546" y="1131.9" textLength="30" lengthAdjust="spacingAndGlyphs">0.4</text>
<text x="1324" y="1245.1" textLength="30" lengthAdjust="spacingAndGlyphs">0.1</text>
<text x="1398" y="1245.1" textLength="30" lengthAdjust="spacingAndGlyphs">0.2</text>
<text x="1471" y="1245.1" textLength="30" lengthAdjust="spacingAndGlyphs">0.3</text>
<text x="1544" y="1245.1" textLength="30" lengthAdjust="spacingAndGlyphs">0.4</text>
<text x="1323" y="1358.3" textLength="30" lengthAdjust="spacingAndGlyphs">0.1</text>
<text x="1397" y="1358.3" textLength="30" lengthAdjust="spacingAndGlyphs">0.2</text>
<text x="1470" y="1358.3" textLength="30" lengthAdjust="spacingAndGlyphs">0.3</text>
<text x="1544" y="1358.3" textLength="30" lengthAdjust="spacingAndGlyphs">0.4</text>
</g>

<!-- t/s labels -->
<g class="ti" text-anchor="middle">
<text x="598.8" y="650" textLength="24" lengthAdjust="spacingAndGlyphs">t/s</text>
<text x="1399.4" y="657" textLength="24" lengthAdjust="spacingAndGlyphs">t/s</text>
<text x="606.5" y="1392" textLength="24" lengthAdjust="spacingAndGlyphs">t/s</text>
<text x="1397" y="1382" textLength="24" lengthAdjust="spacingAndGlyphs">t/s</text>
</g>

<!-- percentages -->
<g class="pc">
<text x="323" y="95.3" textLength="46" lengthAdjust="spacingAndGlyphs">56%</text>
<text x="323" y="404.8" textLength="46" lengthAdjust="spacingAndGlyphs">44%</text>
<text x="1117" y="93.8" textLength="46" lengthAdjust="spacingAndGlyphs">33%</text>
<text x="1117" y="292.8" textLength="46" lengthAdjust="spacingAndGlyphs">43%</text>
<text x="1117" y="487.8" textLength="46" lengthAdjust="spacingAndGlyphs">24%</text>
<text x="317" y="834.8" textLength="46" lengthAdjust="spacingAndGlyphs">15%</text>
<text x="322" y="976.8" textLength="46" lengthAdjust="spacingAndGlyphs">34%</text>
<text x="323.5" y="1118.8" textLength="46" lengthAdjust="spacingAndGlyphs">32%</text>
<text x="326" y="1259.8" textLength="46" lengthAdjust="spacingAndGlyphs">19%</text>
<text x="1119.5" y="824.8" textLength="46" lengthAdjust="spacingAndGlyphs">23%</text>
<text x="1119.5" y="935.8" textLength="46" lengthAdjust="spacingAndGlyphs">18%</text>
<text x="1119.5" y="1050.8" textLength="46" lengthAdjust="spacingAndGlyphs">10%</text>
<text x="1119.5" y="1164.8" textLength="46" lengthAdjust="spacingAndGlyphs">24%</text>
<text x="1119.5" y="1278.8" textLength="46" lengthAdjust="spacingAndGlyphs">25%</text>
</g>

<!-- y axis labels -->
<g class="yl" text-anchor="middle">
<text transform="translate(22.5 180) rotate(-90)" textLength="93" lengthAdjust="spacingAndGlyphs">Module 1</text>
<text transform="translate(22.5 490.3) rotate(-90)" textLength="93" lengthAdjust="spacingAndGlyphs">Module 2</text>
<text transform="translate(829.5 140.3) rotate(-90)" textLength="94" lengthAdjust="spacingAndGlyphs">Module 1</text>
<text transform="translate(829.5 336.7) rotate(-90)" textLength="94" lengthAdjust="spacingAndGlyphs">Module 2</text>
<text transform="translate(829.5 532.8) rotate(-90)" textLength="94" lengthAdjust="spacingAndGlyphs">Module 3</text>
<text transform="translate(27.5 858.3) rotate(-90)" textLength="95" lengthAdjust="spacingAndGlyphs">Module 1</text>
<text transform="translate(27.5 1001.5) rotate(-90)" textLength="95" lengthAdjust="spacingAndGlyphs">Module 2</text>
<text transform="translate(27.5 1144.3) rotate(-90)" textLength="95" lengthAdjust="spacingAndGlyphs">Module 3</text>
<text transform="translate(27.5 1287.3) rotate(-90)" textLength="95" lengthAdjust="spacingAndGlyphs">Module 4</text>
<text transform="translate(818.2 840.1) rotate(-90)" textLength="97" lengthAdjust="spacingAndGlyphs">Module 1</text>
<text transform="translate(818.2 953.4) rotate(-90)" textLength="97" lengthAdjust="spacingAndGlyphs">Module 2</text>
<text transform="translate(818.2 1067.5) rotate(-90)" textLength="97" lengthAdjust="spacingAndGlyphs">Module 3</text>
<text transform="translate(818.2 1181.4) rotate(-90)" textLength="97" lengthAdjust="spacingAndGlyphs">Module 4</text>
<text transform="translate(818.2 1295) rotate(-90)" textLength="97" lengthAdjust="spacingAndGlyphs">Module 5</text>
</g>

<!-- muscle labels -->
<g class="ml" text-anchor="middle" transform="translate(117 636.8)">
<text transform="translate(0 0) rotate(-90)" textLength="35.6" lengthAdjust="spacingAndGlyphs">FDS</text>
<text transform="translate(32.3 0) rotate(-90)" textLength="38" lengthAdjust="spacingAndGlyphs">EDC</text>
<text transform="translate(64.6 0) rotate(-90)" textLength="12.7" lengthAdjust="spacingAndGlyphs">B</text>
<text transform="translate(96.9 0) rotate(-90)" textLength="37" lengthAdjust="spacingAndGlyphs">FCR</text>
<text transform="translate(129.2 0) rotate(-90)" textLength="37" lengthAdjust="spacingAndGlyphs">FCU</text>
<text transform="translate(161.5 0) rotate(-90)" textLength="51" lengthAdjust="spacingAndGlyphs">ECRB</text>
<text transform="translate(193.8 0) rotate(-90)" textLength="38" lengthAdjust="spacingAndGlyphs">ECU</text>
<text transform="translate(226.1 0) rotate(-90)" textLength="25.5" lengthAdjust="spacingAndGlyphs">BB</text>
</g>
<g class="ml" text-anchor="middle" transform="translate(916.8 637.5)">
<text transform="translate(0 0) rotate(-90)" textLength="35.6" lengthAdjust="spacingAndGlyphs">FDS</text>
<text transform="translate(32.1 0) rotate(-90)" textLength="38" lengthAdjust="spacingAndGlyphs">EDC</text>
<text transform="translate(64.2 0) rotate(-90)" textLength="12.7" lengthAdjust="spacingAndGlyphs">B</text>
<text transform="translate(96.3 0) rotate(-90)" textLength="37" lengthAdjust="spacingAndGlyphs">FCR</text>
<text transform="translate(128.4 0) rotate(-90)" textLength="37" lengthAdjust="spacingAndGlyphs">FCU</text>
<text transform="translate(160.5 0) rotate(-90)" textLength="51" lengthAdjust="spacingAndGlyphs">ECRB</text>
<text transform="translate(192.6 0) rotate(-90)" textLength="38" lengthAdjust="spacingAndGlyphs">ECU</text>
<text transform="translate(224.7 0) rotate(-90)" textLength="25.5" lengthAdjust="spacingAndGlyphs">BB</text>
</g>
<g class="ml" text-anchor="middle" transform="translate(116.3 1373.5)">
<text transform="translate(0 0) rotate(-90)" textLength="35.6" lengthAdjust="spacingAndGlyphs">FDS</text>
<text transform="translate(32.3 0) rotate(-90)" textLength="38" lengthAdjust="spacingAndGlyphs">EDC</text>
<text transform="translate(64.6 0) rotate(-90)" textLength="12.7" lengthAdjust="spacingAndGlyphs">B</text>
<text transform="translate(96.9 0) rotate(-90)" textLength="37" lengthAdjust="spacingAndGlyphs">FCR</text>
<text transform="translate(129.2 0) rotate(-90)" textLength="37" lengthAdjust="spacingAndGlyphs">FCU</text>
<text transform="translate(161.5 0) rotate(-90)" textLength="51" lengthAdjust="spacingAndGlyphs">ECRB</text>
<text transform="translate(193.8 0) rotate(-90)" textLength="38" lengthAdjust="spacingAndGlyphs">ECU</text>
<text transform="translate(226.1 0) rotate(-90)" textLength="25.5" lengthAdjust="spacingAndGlyphs">BB</text>
</g>
<g class="ml" text-anchor="middle" transform="translate(915.6 1368)">
<text transform="translate(0 0) rotate(-90)" textLength="35.6" lengthAdjust="spacingAndGlyphs">FDS</text>
<text transform="translate(32.3 0) rotate(-90)" textLength="38" lengthAdjust="spacingAndGlyphs">EDC</text>
<text transform="translate(64.7 0) rotate(-90)" textLength="12.7" lengthAdjust="spacingAndGlyphs">B</text>
<text transform="translate(97 0) rotate(-90)" textLength="37" lengthAdjust="spacingAndGlyphs">FCR</text>
<text transform="translate(129.3 0) rotate(-90)" textLength="37" lengthAdjust="spacingAndGlyphs">FCU</text>
<text transform="translate(161.7 0) rotate(-90)" textLength="51" lengthAdjust="spacingAndGlyphs">ECRB</text>
<text transform="translate(194 0) rotate(-90)" textLength="38" lengthAdjust="spacingAndGlyphs">ECU</text>
<text transform="translate(226.4 0) rotate(-90)" textLength="25.5" lengthAdjust="spacingAndGlyphs">BB</text>
</g>
</svg>
</body></html>
